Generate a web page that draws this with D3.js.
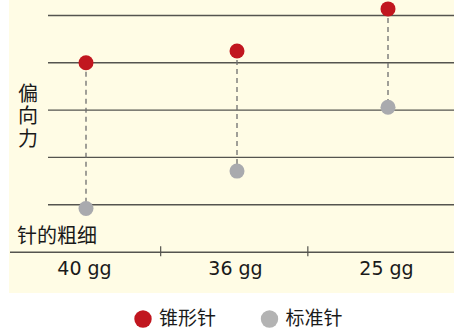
<!DOCTYPE html>
<html><head><meta charset="utf-8">
<script src="https://cdn.jsdelivr.net/npm/d3@7"></script>
<style>html,body{margin:0;padding:0;background:#fff;}svg{display:block;}</style>
</head><body><svg id="c" width="454" height="329"></svg>
<script>
const categories = ["40 gg", "36 gg", "25 gg"];
const taperValues = [3.0, 3.25, 4.14];     // 锥形针
const standardValues = [-0.08, 0.71, 2.06]; // 标准针
const gridLevels = [0, 1, 2, 3, 4];
const seriesNames = ["锥形针", "标准针"];
const yTitle = "偏向力";
const xTitle = "针的粗细";

const svg = d3.select("#c");
const cjk = "'Noto Sans CJK SC', sans-serif";
const red = "#c1161f", grey = "#a9aaae", greyLegend = "#b3b3b3";

svg.append("rect").attr("x", 9).attr("y", 0).attr("width", 445).attr("height", 293).attr("fill", "#fffce5");

const xBand = d3.scaleBand().domain(categories).range([13.5, 455]);
const xPt = d3.scalePoint().domain(categories).range([86, 388]);
const y = d3.scaleLinear().domain([0, 4]).range([204.7, 15.5]);

// grid
svg.append("g").selectAll("line").data(gridLevels).join("line")
  .attr("x1", 48).attr("x2", 454)
  .attr("y1", d => y(d)).attr("y2", d => y(d))
  .attr("stroke", "#55544f").attr("stroke-width", 1.4);

// dashed connectors
svg.append("g").selectAll("line").data(categories).join("line")
  .attr("x1", d => xPt(d)).attr("x2", d => xPt(d))
  .attr("y1", (d, i) => y(taperValues[i])).attr("y2", (d, i) => y(standardValues[i]))
  .attr("stroke", "#6e6e6e").attr("stroke-width", 1.3).attr("stroke-dasharray", "5,4");

// points
svg.append("g").selectAll("circle").data(categories).join("circle")
  .attr("cx", d => xPt(d)).attr("cy", (d, i) => y(standardValues[i])).attr("r", 7.5).attr("fill", grey);
svg.append("g").selectAll("circle").data(categories).join("circle")
  .attr("cx", d => xPt(d)).attr("cy", (d, i) => y(taperValues[i])).attr("r", 7.5).attr("fill", red);

// x axis
const axY = 252.3;
svg.append("line").attr("x1", 10).attr("x2", 454).attr("y1", axY).attr("y2", axY)
  .attr("stroke", "#55544f").attr("stroke-width", 1.4);
svg.append("g").selectAll("line").data(categories.slice(1)).join("line")
  .attr("x1", d => xBand(d)).attr("x2", d => xBand(d))
  .attr("y1", axY - 6).attr("y2", axY + 4)
  .attr("stroke", "#55544f").attr("stroke-width", 1.2);
svg.append("g").selectAll("text").data(categories).join("text")
  .attr("x", d => xPt(d) - 1.5).attr("y", 275)
  .attr("text-anchor", "middle").attr("font-family", "'DejaVu Sans', sans-serif")
  .attr("font-size", 19).attr("fill", "#1a1a1a").text(d => d);

// titles
svg.append("text").attr("x", 28).attr("y", 83)
  .style("writing-mode", "vertical-rl").style("letter-spacing", "2.6px")
  .attr("font-family", cjk).attr("font-size", 20)
  .attr("fill", "#1a1a1a").text(yTitle);
svg.append("text").attr("x", 17).attr("y", 234).attr("dominant-baseline", "central")
  .attr("font-family", cjk).attr("font-size", 20).attr("fill", "#1a1a1a").text(xTitle);

// legend
const legendX = [143, 269.5];
const legendColors = [red, greyLegend];
const lg = svg.append("g").selectAll("g").data(seriesNames).join("g")
  .attr("transform", (d, i) => `translate(${legendX[i]},319)`);
lg.append("circle").attr("r", 8.7).attr("fill", (d, i) => legendColors[i]);
lg.append("text").attr("x", 16).attr("y", 5.5)
  .attr("font-family", cjk).attr("font-size", 19).attr("fill", "#1a1a1a").text(d => d);
</script></body></html>
